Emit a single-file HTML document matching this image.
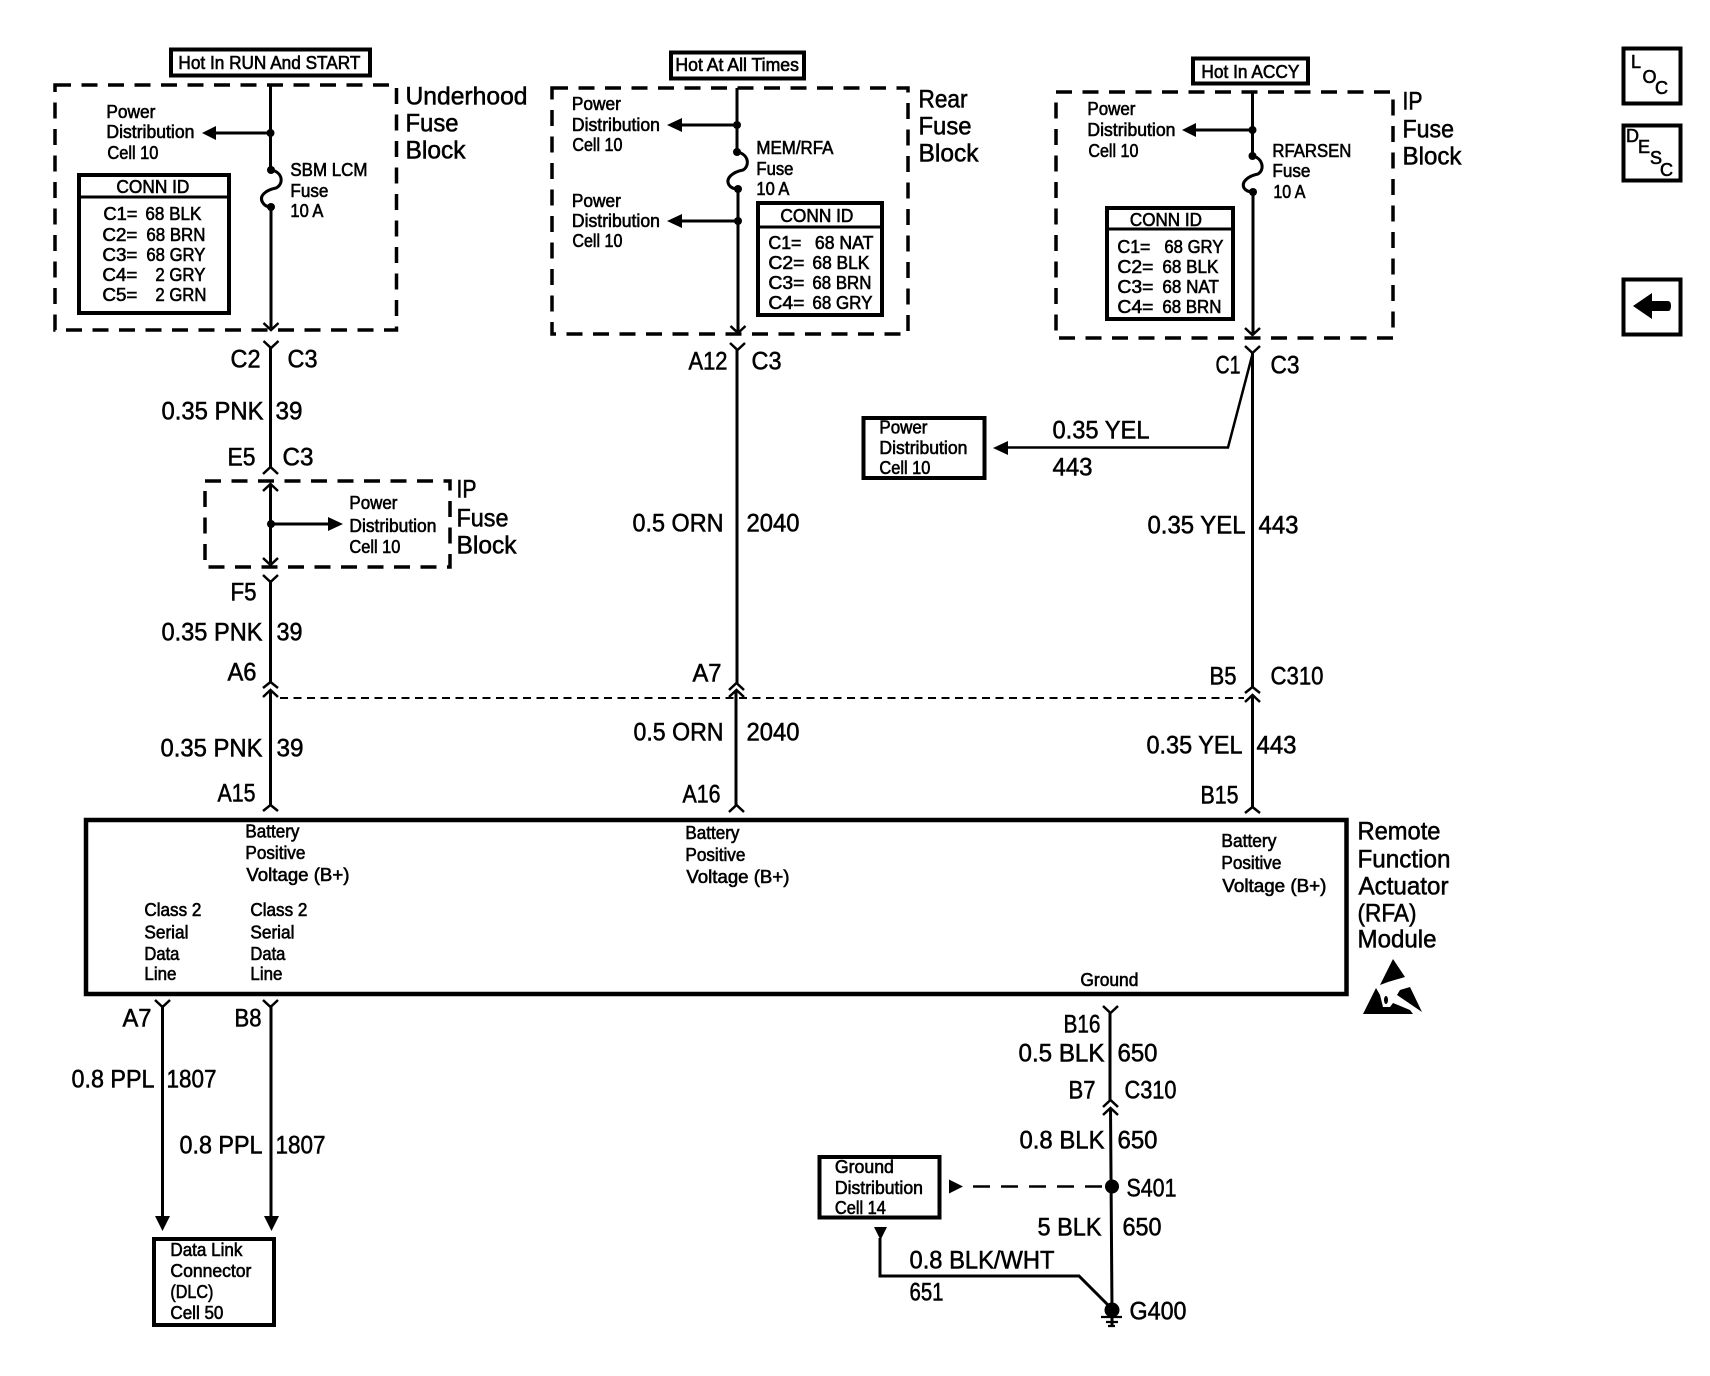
<!DOCTYPE html>
<html><head><meta charset="utf-8"><title>RFA Module Wiring</title>
<style>
html,body{margin:0;padding:0;background:#fff}
svg{display:block}
text{font-family:"Liberation Sans",Arial,sans-serif;fill:#000}
.s{font-size:18px;stroke:#000;stroke-width:.6px;transform:translate(-.6px,0)}
.l{font-size:25px;stroke:#000;stroke-width:.55px;transform:translate(-.5px,.7px)}
.b{fill:none;stroke:#000;stroke-width:4}
.d{fill:none;stroke:#000;stroke-width:3.5;stroke-dasharray:16 10.5}
.w{fill:none;stroke:#000;stroke-width:3}
.c{fill:none;stroke:#000;stroke-width:2.5}
</style></head><body>
<svg xmlns="http://www.w3.org/2000/svg" width="1710" height="1376" viewBox="0 0 1710 1376">
<rect width="1710" height="1376" fill="#fff"/>

<!-- Column 1: Underhood -->
<rect class="b" x="171" y="49.500" width="199" height="26" stroke-width="3.500"/>
<text class="s" x="179" y="69" textLength="182" lengthAdjust="spacingAndGlyphs">Hot In RUN And START</text>
<rect class="d" x="55" y="85" width="341.500" height="245"/>
<text class="l" x="406" y="104" textLength="122" lengthAdjust="spacingAndGlyphs">Underhood</text>
<text class="l" x="406" y="131" textLength="53" lengthAdjust="spacingAndGlyphs">Fuse</text>
<text class="l" x="406" y="158" textLength="60" lengthAdjust="spacingAndGlyphs">Block</text>
<text class="s" x="107" y="118" textLength="49" lengthAdjust="spacingAndGlyphs">Power</text>
<text class="s" x="107" y="138" textLength="88" lengthAdjust="spacingAndGlyphs">Distribution</text>
<text class="s" x="108" y="159" textLength="51" lengthAdjust="spacingAndGlyphs">Cell 10</text>
<path class="w" d="M270.500 85V170M271 207V328"/>
<path class="w" d="M271 170C283 172 284 184 276 188C266 190 258 196 263 203C265 206 268 207 271 207"/>
<circle cx="270.500" cy="133" r="4"/><circle cx="271" cy="170" r="4"/><circle cx="271" cy="207" r="4"/>
<path class="w" d="M216 133H270"/><path d="M202 133L216 126V140Z"/>
<path class="c" d="M263.500 323L271 330L278.500 323"/>
<text class="s" x="291" y="176" textLength="77" lengthAdjust="spacingAndGlyphs">SBM LCM</text>
<text class="s" x="291" y="197" textLength="38" lengthAdjust="spacingAndGlyphs">Fuse</text>
<text class="s" x="291" y="217" textLength="33" lengthAdjust="spacingAndGlyphs">10 A</text>
<rect class="b" x="79" y="175" width="150" height="138"/>
<path class="w" d="M79 197H229"/>
<text class="s" x="117" y="193" textLength="73" lengthAdjust="spacingAndGlyphs">CONN ID</text>
<text class="s" x="104" y="220" textLength="34" lengthAdjust="spacingAndGlyphs">C1=</text><text class="s" x="146" y="220" textLength="56" lengthAdjust="spacingAndGlyphs">68 BLK</text>
<text class="s" x="103" y="241" textLength="35" lengthAdjust="spacingAndGlyphs">C2=</text><text class="s" x="147" y="241" textLength="59" lengthAdjust="spacingAndGlyphs">68 BRN</text>
<text class="s" x="103" y="261" textLength="35" lengthAdjust="spacingAndGlyphs">C3=</text><text class="s" x="147" y="261" textLength="59" lengthAdjust="spacingAndGlyphs">68 GRY</text>
<text class="s" x="103" y="281" textLength="35" lengthAdjust="spacingAndGlyphs">C4=</text><text class="s" x="156" y="281" textLength="50" lengthAdjust="spacingAndGlyphs">2 GRY</text>
<text class="s" x="103" y="301" textLength="35" lengthAdjust="spacingAndGlyphs">C5=</text><text class="s" x="156" y="301" textLength="51" lengthAdjust="spacingAndGlyphs">2 GRN</text>

<path class="c" d="M263.500 341L271 348L278.500 341"/>
<path class="w" d="M270.500 347V468"/>
<text class="l" x="231" y="367" textLength="30" lengthAdjust="spacingAndGlyphs">C2</text>
<text class="l" x="288" y="367" textLength="30" lengthAdjust="spacingAndGlyphs">C3</text>
<text class="l" x="162" y="419" textLength="102" lengthAdjust="spacingAndGlyphs">0.35 PNK</text>
<text class="l" x="276" y="419" textLength="27" lengthAdjust="spacingAndGlyphs">39</text>
<text class="l" x="228" y="465" textLength="28" lengthAdjust="spacingAndGlyphs">E5</text>
<text class="l" x="283" y="465" textLength="31" lengthAdjust="spacingAndGlyphs">C3</text>
<path class="c" d="M263 474L270.500 467L278 474"/>

<!-- IP fuse block small -->
<rect class="d" x="205" y="481" width="245" height="86"/>
<path class="w" d="M270.500 485V563"/>
<path class="c" d="M263 491L270.500 484L278 491"/>
<path class="c" d="M263 558L270.500 565L278 558"/>
<circle cx="271" cy="524" r="4"/>
<path class="w" d="M271 524H328"/><path d="M343 524L328 517V531Z"/>
<text class="s" x="350" y="509" textLength="48" lengthAdjust="spacingAndGlyphs">Power</text>
<text class="s" x="350" y="532" textLength="87" lengthAdjust="spacingAndGlyphs">Distribution</text>
<text class="s" x="350" y="553" textLength="51" lengthAdjust="spacingAndGlyphs">Cell 10</text>
<text class="l" x="457" y="497" textLength="20" lengthAdjust="spacingAndGlyphs">IP</text>
<text class="l" x="457" y="526" textLength="52" lengthAdjust="spacingAndGlyphs">Fuse</text>
<text class="l" x="457" y="553" textLength="60" lengthAdjust="spacingAndGlyphs">Block</text>

<path class="c" d="M263 575L270.500 582L278 575"/>
<path class="w" d="M270.500 580V682M270.500 690V805"/>
<text class="l" x="231" y="600" textLength="26" lengthAdjust="spacingAndGlyphs">F5</text>
<text class="l" x="162" y="640" textLength="101" lengthAdjust="spacingAndGlyphs">0.35 PNK</text>
<text class="l" x="277" y="640" textLength="26" lengthAdjust="spacingAndGlyphs">39</text>
<text class="l" x="228" y="680" textLength="29" lengthAdjust="spacingAndGlyphs">A6</text>
<path class="c" d="M263 688L270.500 682L278 688"/>
<path class="c" d="M263 697L270.500 690L278 697"/>
<text class="l" x="161" y="756" textLength="102" lengthAdjust="spacingAndGlyphs">0.35 PNK</text>
<text class="l" x="277" y="756" textLength="27" lengthAdjust="spacingAndGlyphs">39</text>
<text class="l" x="218" y="801" textLength="38" lengthAdjust="spacingAndGlyphs">A15</text>
<path class="c" d="M263 811L270.500 805L278 811"/>

<!-- dashed shield line -->
<path d="M280 698H1244" fill="none" stroke="#000" stroke-width="2" stroke-dasharray="8 5.500"/>

<!-- Column 2: Rear -->
<rect class="b" x="671" y="52.500" width="133" height="26" stroke-width="3.500"/>
<text class="s" x="676" y="71" textLength="123.500" lengthAdjust="spacingAndGlyphs">Hot At All Times</text>
<rect class="d" x="552" y="88" width="356" height="246"/>
<text class="l" x="919" y="107" textLength="49" lengthAdjust="spacingAndGlyphs">Rear</text>
<text class="l" x="919" y="134" textLength="53" lengthAdjust="spacingAndGlyphs">Fuse</text>
<text class="l" x="919" y="161" textLength="60" lengthAdjust="spacingAndGlyphs">Block</text>
<path class="w" d="M737 88V152M738 189V331"/>
<path class="w" d="M737 152C749 154 750 166 743 170C733 172 725 178 729 185C731 188 735 189 738 189"/>
<circle cx="737" cy="125" r="4"/><circle cx="737" cy="152" r="4"/><circle cx="738" cy="189" r="4"/><circle cx="738" cy="221" r="4"/>
<path class="w" d="M682 125H737M682 221H738"/>
<path d="M667 125L682 118V132Z"/><path d="M667 221L682 214V228Z"/>
<path class="c" d="M730.500 326L738 333L745.500 326"/>
<text class="s" x="572.500" y="110" textLength="49" lengthAdjust="spacingAndGlyphs">Power</text>
<text class="s" x="572.500" y="131" textLength="88" lengthAdjust="spacingAndGlyphs">Distribution</text>
<text class="s" x="573" y="151" textLength="50" lengthAdjust="spacingAndGlyphs">Cell 10</text>
<text class="s" x="572.500" y="207" textLength="49" lengthAdjust="spacingAndGlyphs">Power</text>
<text class="s" x="572.500" y="227" textLength="88" lengthAdjust="spacingAndGlyphs">Distribution</text>
<text class="s" x="573" y="247" textLength="50" lengthAdjust="spacingAndGlyphs">Cell 10</text>
<text class="s" x="757" y="154" textLength="77" lengthAdjust="spacingAndGlyphs">MEM/RFA</text>
<text class="s" x="757" y="175" textLength="37" lengthAdjust="spacingAndGlyphs">Fuse</text>
<text class="s" x="757" y="195" textLength="33" lengthAdjust="spacingAndGlyphs">10 A</text>
<rect class="b" x="758" y="203" width="124" height="112"/>
<path class="w" d="M758 227H882"/>
<text class="s" x="781" y="222" textLength="73" lengthAdjust="spacingAndGlyphs">CONN ID</text>
<text class="s" x="769" y="249" textLength="33" lengthAdjust="spacingAndGlyphs">C1=</text><text class="s" x="815.500" y="249" textLength="58.500" lengthAdjust="spacingAndGlyphs">68 NAT</text>
<text class="s" x="769" y="269" textLength="36" lengthAdjust="spacingAndGlyphs">C2=</text><text class="s" x="813" y="269" textLength="57" lengthAdjust="spacingAndGlyphs">68 BLK</text>
<text class="s" x="769" y="289" textLength="36" lengthAdjust="spacingAndGlyphs">C3=</text><text class="s" x="813" y="289" textLength="59" lengthAdjust="spacingAndGlyphs">68 BRN</text>
<text class="s" x="769" y="309" textLength="36" lengthAdjust="spacingAndGlyphs">C4=</text><text class="s" x="813" y="309" textLength="60" lengthAdjust="spacingAndGlyphs">68 GRY</text>

<path class="c" d="M730 343L737.500 350L745 343"/>
<path class="w" d="M737 349V683M736 690V805"/>
<text class="l" x="689" y="369" textLength="39" lengthAdjust="spacingAndGlyphs">A12</text>
<text class="l" x="752" y="369" textLength="30" lengthAdjust="spacingAndGlyphs">C3</text>
<text class="l" x="633" y="531" textLength="91" lengthAdjust="spacingAndGlyphs">0.5 ORN</text>
<text class="l" x="747" y="531" textLength="53" lengthAdjust="spacingAndGlyphs">2040</text>
<text class="l" x="693" y="681" textLength="29" lengthAdjust="spacingAndGlyphs">A7</text>
<path class="c" d="M729 690L736.500 683L744 690"/>
<path class="c" d="M729 697L736.500 690L744 697"/>
<text class="l" x="634" y="740" textLength="90" lengthAdjust="spacingAndGlyphs">0.5 ORN</text>
<text class="l" x="747" y="740" textLength="53" lengthAdjust="spacingAndGlyphs">2040</text>
<text class="l" x="683" y="802" textLength="38" lengthAdjust="spacingAndGlyphs">A16</text>
<path class="c" d="M729 812L736.500 805L744 812"/>

<!-- Column 3: IP -->
<rect class="b" x="1193" y="58.500" width="115" height="25" stroke-width="3.500"/>
<text class="s" x="1202" y="78" textLength="98" lengthAdjust="spacingAndGlyphs">Hot In ACCY</text>
<rect class="d" x="1056" y="92" width="337" height="246"/>
<text class="l" x="1403" y="109" textLength="20" lengthAdjust="spacingAndGlyphs">IP</text>
<text class="l" x="1403" y="137" textLength="51.500" lengthAdjust="spacingAndGlyphs">Fuse</text>
<text class="l" x="1403" y="164" textLength="59" lengthAdjust="spacingAndGlyphs">Block</text>
<path class="w" d="M1252.500 92V156M1253 192V333"/>
<path class="w" d="M1252.500 156C1263 158 1265 170 1258 174C1248 176 1241 182 1244 188C1246 191 1250 192 1253 192"/>
<circle cx="1252.500" cy="130" r="4"/><circle cx="1252.500" cy="156" r="4"/><circle cx="1253" cy="192" r="4"/>
<path class="w" d="M1196 130H1252"/><path d="M1182 130L1196 123V137Z"/>
<path class="c" d="M1245 328L1252.500 335L1260 328"/>
<text class="s" x="1088" y="115" textLength="48" lengthAdjust="spacingAndGlyphs">Power</text>
<text class="s" x="1088" y="136" textLength="88" lengthAdjust="spacingAndGlyphs">Distribution</text>
<text class="s" x="1089" y="157" textLength="50" lengthAdjust="spacingAndGlyphs">Cell 10</text>
<text class="s" x="1273" y="157" textLength="79" lengthAdjust="spacingAndGlyphs">RFARSEN</text>
<text class="s" x="1273" y="177" textLength="38" lengthAdjust="spacingAndGlyphs">Fuse</text>
<text class="s" x="1274" y="198" textLength="32" lengthAdjust="spacingAndGlyphs">10 A</text>
<rect class="b" x="1107" y="208" width="126" height="111"/>
<path class="w" d="M1107 229H1233"/>
<text class="s" x="1130.500" y="226" textLength="72" lengthAdjust="spacingAndGlyphs">CONN ID</text>
<text class="s" x="1118" y="253" textLength="33" lengthAdjust="spacingAndGlyphs">C1=</text><text class="s" x="1165" y="253" textLength="59" lengthAdjust="spacingAndGlyphs">68 GRY</text>
<text class="s" x="1118" y="273" textLength="36" lengthAdjust="spacingAndGlyphs">C2=</text><text class="s" x="1163" y="273" textLength="56" lengthAdjust="spacingAndGlyphs">68 BLK</text>
<text class="s" x="1118" y="293" textLength="36" lengthAdjust="spacingAndGlyphs">C3=</text><text class="s" x="1163" y="293" textLength="56.500" lengthAdjust="spacingAndGlyphs">68 NAT</text>
<text class="s" x="1118" y="313" textLength="36" lengthAdjust="spacingAndGlyphs">C4=</text><text class="s" x="1163" y="313" textLength="59" lengthAdjust="spacingAndGlyphs">68 BRN</text>

<path class="c" d="M1245 346L1252.500 353L1260 346"/>
<path class="w" d="M1252.500 352V687M1252.500 695V807"/>
<path fill="none" stroke="#000" stroke-width="2.500" d="M1252 356L1228 447.500H1008"/>
<path d="M993 448L1008 441V455Z"/>
<text class="l" x="1216" y="373" textLength="25" lengthAdjust="spacingAndGlyphs">C1</text>
<text class="l" x="1271" y="373" textLength="29" lengthAdjust="spacingAndGlyphs">C3</text>
<text class="l" x="1053" y="438" textLength="97" lengthAdjust="spacingAndGlyphs">0.35 YEL</text>
<text class="l" x="1053" y="475" textLength="40" lengthAdjust="spacingAndGlyphs">443</text>
<rect class="b" x="863.500" y="418" width="121" height="60"/>
<text class="s" x="880" y="433.500" textLength="48" lengthAdjust="spacingAndGlyphs">Power</text>
<text class="s" x="880" y="454" textLength="88" lengthAdjust="spacingAndGlyphs">Distribution</text>
<text class="s" x="880" y="474" textLength="51" lengthAdjust="spacingAndGlyphs">Cell 10</text>
<text class="l" x="1148" y="533" textLength="98" lengthAdjust="spacingAndGlyphs">0.35 YEL</text>
<text class="l" x="1259" y="533" textLength="40" lengthAdjust="spacingAndGlyphs">443</text>
<text class="l" x="1210" y="684" textLength="27" lengthAdjust="spacingAndGlyphs">B5</text>
<text class="l" x="1271" y="684" textLength="53" lengthAdjust="spacingAndGlyphs">C310</text>
<path class="c" d="M1245 693L1252.500 687L1260 693"/>
<path class="c" d="M1245 702L1252.500 695L1260 702"/>
<text class="l" x="1147" y="753" textLength="96" lengthAdjust="spacingAndGlyphs">0.35 YEL</text>
<text class="l" x="1257" y="753" textLength="40" lengthAdjust="spacingAndGlyphs">443</text>
<text class="l" x="1201" y="803" textLength="38" lengthAdjust="spacingAndGlyphs">B15</text>
<path class="c" d="M1245 813L1252.500 807L1260 813"/>

<!-- Module -->
<path fill="none" stroke="#000" stroke-width="4.500" d="M86 820H1346.500V994H86Z"/>
<text class="s" x="246" y="837.500" textLength="54" lengthAdjust="spacingAndGlyphs">Battery</text>
<text class="s" x="246" y="859" textLength="60" lengthAdjust="spacingAndGlyphs">Positive</text>
<text class="s" x="247" y="881" textLength="103" lengthAdjust="spacingAndGlyphs">Voltage (B+)</text>
<text class="s" x="686" y="839" textLength="54" lengthAdjust="spacingAndGlyphs">Battery</text>
<text class="s" x="686" y="861" textLength="60" lengthAdjust="spacingAndGlyphs">Positive</text>
<text class="s" x="687" y="883" textLength="103" lengthAdjust="spacingAndGlyphs">Voltage (B+)</text>
<text class="s" x="1222" y="847" textLength="55" lengthAdjust="spacingAndGlyphs">Battery</text>
<text class="s" x="1222" y="869" textLength="60" lengthAdjust="spacingAndGlyphs">Positive</text>
<text class="s" x="1223" y="892" textLength="104" lengthAdjust="spacingAndGlyphs">Voltage (B+)</text>
<text class="s" x="145" y="916" textLength="57" lengthAdjust="spacingAndGlyphs">Class 2</text>
<text class="s" x="145" y="938.500" textLength="44" lengthAdjust="spacingAndGlyphs">Serial</text>
<text class="s" x="145" y="960" textLength="35" lengthAdjust="spacingAndGlyphs">Data</text>
<text class="s" x="145" y="980" textLength="32" lengthAdjust="spacingAndGlyphs">Line</text>
<text class="s" x="251" y="916" textLength="57" lengthAdjust="spacingAndGlyphs">Class 2</text>
<text class="s" x="251" y="938.500" textLength="44" lengthAdjust="spacingAndGlyphs">Serial</text>
<text class="s" x="251" y="960" textLength="35" lengthAdjust="spacingAndGlyphs">Data</text>
<text class="s" x="251" y="980" textLength="32" lengthAdjust="spacingAndGlyphs">Line</text>
<text class="s" x="1081" y="986" textLength="58" lengthAdjust="spacingAndGlyphs">Ground</text>
<text class="l" x="1358" y="839" textLength="83" lengthAdjust="spacingAndGlyphs">Remote</text>
<text class="l" x="1358" y="867" textLength="93" lengthAdjust="spacingAndGlyphs">Function</text>
<text class="l" x="1359" y="894" textLength="90" lengthAdjust="spacingAndGlyphs">Actuator</text>
<text class="l" x="1358" y="921" textLength="59" lengthAdjust="spacingAndGlyphs">(RFA)</text>
<text class="l" x="1358" y="947" textLength="79" lengthAdjust="spacingAndGlyphs">Module</text>
<!-- ESD symbol -->
<path d="M1393 959L1405 977L1388 982L1380 985Z"/>
<path d="M1376 988L1363 1014H1413L1410 1010L1393 1003L1390 1007H1383L1380 995Z"/>
<path d="M1410 987L1422 1012L1397 995L1400 990Z"/>
<ellipse cx="1386" cy="1000" rx="2" ry="4"/>

<!-- DLC wires -->
<path class="c" d="M155 1000L162.500 1007L170 1000"/>
<path class="c" d="M263 1000L270.500 1007L278 1000"/>
<path class="w" d="M162.500 1005V1217M271 1005V1217"/>
<path d="M155 1216H170L162.500 1231Z"/><path d="M264 1216H279L271.500 1231Z"/>
<text class="l" x="123" y="1026" textLength="29" lengthAdjust="spacingAndGlyphs">A7</text>
<text class="l" x="235" y="1026" textLength="27" lengthAdjust="spacingAndGlyphs">B8</text>
<text class="l" x="72" y="1087" textLength="83" lengthAdjust="spacingAndGlyphs">0.8 PPL</text>
<text class="l" x="167" y="1087" textLength="50" lengthAdjust="spacingAndGlyphs">1807</text>
<text class="l" x="180" y="1153" textLength="83" lengthAdjust="spacingAndGlyphs">0.8 PPL</text>
<text class="l" x="276" y="1153" textLength="50" lengthAdjust="spacingAndGlyphs">1807</text>
<rect class="b" x="154" y="1239" width="120" height="86"/>
<text class="s" x="171" y="1256" textLength="72" lengthAdjust="spacingAndGlyphs">Data Link</text>
<text class="s" x="171" y="1277" textLength="81" lengthAdjust="spacingAndGlyphs">Connector</text>
<text class="s" x="171" y="1298" textLength="43" lengthAdjust="spacingAndGlyphs">(DLC)</text>
<text class="s" x="171" y="1319" textLength="53" lengthAdjust="spacingAndGlyphs">Cell 50</text>

<!-- Ground -->
<path class="c" d="M1103 1006L1110.500 1013L1118 1006"/>
<path class="w" d="M1110 1012V1100M1110.500 1108L1112 1310"/>
<text class="l" x="1064" y="1032" textLength="37" lengthAdjust="spacingAndGlyphs">B16</text>
<text class="l" x="1019" y="1061" textLength="86" lengthAdjust="spacingAndGlyphs">0.5 BLK</text>
<text class="l" x="1118" y="1061" textLength="40" lengthAdjust="spacingAndGlyphs">650</text>
<text class="l" x="1069" y="1098" textLength="27" lengthAdjust="spacingAndGlyphs">B7</text>
<text class="l" x="1125" y="1098" textLength="52" lengthAdjust="spacingAndGlyphs">C310</text>
<path class="c" d="M1103 1107L1110.500 1100L1118 1107"/>
<path class="c" d="M1103 1115L1110.500 1108L1118 1115"/>
<text class="l" x="1020" y="1148" textLength="85" lengthAdjust="spacingAndGlyphs">0.8 BLK</text>
<text class="l" x="1118" y="1148" textLength="40" lengthAdjust="spacingAndGlyphs">650</text>
<circle cx="1112" cy="1186.500" r="7"/>
<text class="l" x="1127" y="1196" textLength="50" lengthAdjust="spacingAndGlyphs">S401</text>
<path d="M1102 1186.500H962" fill="none" stroke="#000" stroke-width="2.500" stroke-dasharray="17 11"/>
<path d="M963 1186.500L949 1179.500V1193.500Z"/>
<rect class="b" x="819.500" y="1157" width="120" height="60.500"/>
<text class="s" x="835.500" y="1173" textLength="59" lengthAdjust="spacingAndGlyphs">Ground</text>
<text class="s" x="835.500" y="1194" textLength="88" lengthAdjust="spacingAndGlyphs">Distribution</text>
<text class="s" x="835.500" y="1214" textLength="51" lengthAdjust="spacingAndGlyphs">Cell 14</text>
<text class="l" x="1038" y="1235" textLength="64" lengthAdjust="spacingAndGlyphs">5 BLK</text>
<text class="l" x="1123" y="1235" textLength="39" lengthAdjust="spacingAndGlyphs">650</text>
<path d="M874 1227H887L880.500 1240Z"/>
<path class="w" d="M880 1238V1276H1079L1108 1305"/>
<text class="l" x="910" y="1268" textLength="145" lengthAdjust="spacingAndGlyphs">0.8 BLK/WHT</text>
<text class="l" x="910" y="1300" textLength="34" lengthAdjust="spacingAndGlyphs">651</text>
<circle cx="1112" cy="1310" r="7.500"/>
<path class="w" d="M1112 1310V1326"/>
<path fill="none" stroke="#000" stroke-width="2.200" d="M1101 1317H1122M1106 1322H1118M1108 1326H1115"/>
<text class="l" x="1130" y="1319" textLength="57" lengthAdjust="spacingAndGlyphs">G400</text>

<!-- Side icons -->
<rect class="b" x="1623.500" y="48.500" width="57" height="55"/>
<text x="1631" y="68" font-size="18" stroke="#000" stroke-width=".6">L</text>
<text x="1642.500" y="83" font-size="18" stroke="#000" stroke-width=".6">O</text>
<text x="1655" y="94" font-size="18" stroke="#000" stroke-width=".6">C</text>
<rect class="b" x="1623.500" y="125.500" width="57" height="55"/>
<text x="1626" y="142" font-size="18" stroke="#000" stroke-width=".6">D</text>
<text x="1638" y="153" font-size="18" stroke="#000" stroke-width=".6">E</text>
<text x="1650" y="164" font-size="18" stroke="#000" stroke-width=".6">S</text>
<text x="1660" y="176" font-size="18" stroke="#000" stroke-width=".6">C</text>
<rect class="b" x="1623.500" y="279.500" width="57" height="55"/>
<path d="M1633 306L1652 293V301H1668Q1671 301 1671 306Q1671 311 1668 311H1652V319Z"/>
</svg>
</body></html>
